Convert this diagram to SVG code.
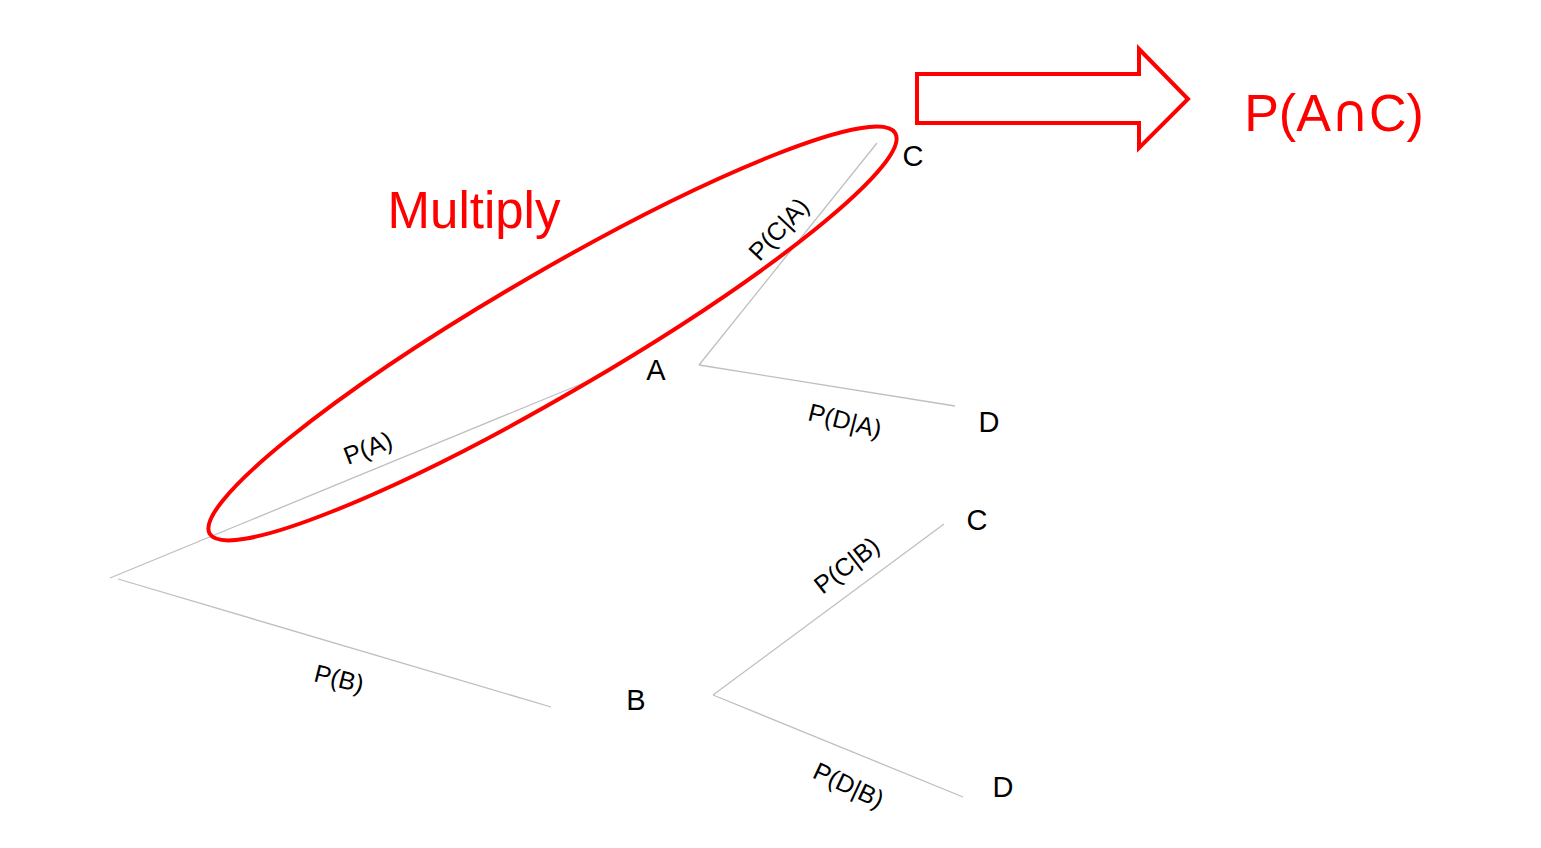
<svg xmlns="http://www.w3.org/2000/svg" width="1541" height="848" viewBox="0 0 1541 848">
<style>
.edge{stroke:#bfbfbf;stroke-width:1.3;fill:none}
.node{font-family:"Liberation Sans",Arial,sans-serif;font-size:29px;fill:#000;text-anchor:middle}
.lbl{font-family:"Liberation Sans",Arial,sans-serif;font-size:25px;fill:#000;text-anchor:middle}
.red{font-family:"Liberation Sans",Arial,sans-serif;fill:#ff0000;text-anchor:middle}
.hl{stroke:#ff0000;stroke-width:4;fill:none}
</style>
<rect width="1541" height="848" fill="#ffffff"/>
<g id="connectors">
<line class="edge" x1="110" y1="578" x2="586" y2="382"/>
<line class="edge" x1="118" y1="579" x2="551" y2="707"/>
<line class="edge" x1="699" y1="365" x2="877" y2="143"/>
<line class="edge" x1="699" y1="365" x2="955" y2="406"/>
<line class="edge" x1="713" y1="695" x2="944" y2="524"/>
<line class="edge" x1="713" y1="695" x2="963" y2="797"/>
<text class="lbl" transform="translate(371,456) rotate(-21)">P(A)</text>
<text class="lbl" transform="translate(337,687) rotate(14)">P(B)</text>
<text class="lbl" transform="translate(785,235) rotate(-47)">P(C|A)</text>
<text class="lbl" transform="translate(843,429) rotate(14)">P(D|A)</text>
<text class="lbl" transform="translate(852,572) rotate(-38)">P(C|B)</text>
<text class="lbl" transform="translate(845,793) rotate(25)">P(D|B)</text>
</g>
<g id="node-A"><text class="node" x="656" y="380">A</text></g>
<g id="node-B"><text class="node" x="636" y="710">B</text></g>
<g id="node-C1"><text class="node" x="913" y="166">C</text></g>
<g id="node-D1"><text class="node" x="989" y="432">D</text></g>
<g id="node-C2"><text class="node" x="977" y="530">C</text></g>
<g id="node-D2"><text class="node" x="1003" y="797">D</text></g>
<g id="highlight">
<ellipse class="hl" cx="552.5" cy="333.5" rx="397" ry="60" transform="rotate(-30.3 552.5 333.5)"/>
<text class="red" x="474" y="228" font-size="51">Multiply</text>
</g>
<g id="result-arrow">
<polygon points="917,74 1139,74 1139,49 1188,99 1139,148 1139,123 917,123" fill="#ffffff" stroke="#ff0000" stroke-width="4" stroke-linejoin="miter"/>
</g>
<g id="result">
<text class="red" x="1334" y="131" font-size="52">P(A<tspan font-family="'DejaVu Sans',sans-serif">∩</tspan>C)</text>
</g>
</svg>
